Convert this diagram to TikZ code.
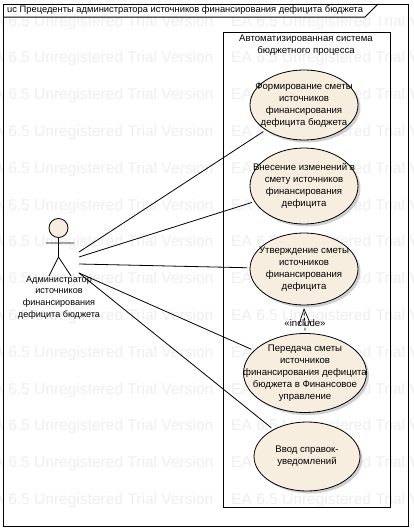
\documentclass[tikz,border=0pt]{standalone}
\usepackage{fontspec}
\setmainfont{Liberation Sans}
\usetikzlibrary{shapes.geometric,arrows.meta,shadows}
\definecolor{ucfill}{HTML}{F7EEE0}
\definecolor{wm}{HTML}{EFEFEF}
\tikzset{
  every node/.style={font=\fontsize{9.6}{12}\selectfont,inner sep=0pt,align=center},
  usecase/.style={ellipse,draw=black,fill=ucfill,line width=0.8pt,outer sep=3pt,
     drop shadow={shadow xshift=2.5pt,shadow yshift=-2.5pt,fill=black!30,opacity=0.6}},
  assoc/.style={draw=black,line width=0.8pt},
  mark wm/.style={font=\fontsize{15.55}{20}\selectfont,text=wm,anchor=west},
  frameline/.style={draw=black,line width=1pt},
}
\begin{document}
\begin{tikzpicture}[x=1pt,y=-1pt]
\useasboundingbox (0,0) rectangle (413,530);
\fill[white] (0,0) rectangle (413,530);
\begin{scope}
\clip (0,17) rectangle (413,530);
\foreach \r in {0,...,13}{
  \foreach \c in {0,1}{
    \node[mark wm] (wm\r\c) at ({-17+\c*248},{22+\r*36.8}) {EA 6.5 Unregistered Trial Version};
  }
}
\end{scope}
% frame
\draw[frameline] (3.5,4) rectangle (408.5,526);
\draw[frameline] (3.5,17) -- (365,17) -- (378,4);
\node[anchor=west,font=\fontsize{9.35}{12}\selectfont] (title) at (7,10) {uc Прецеденты администратора источников финансирования дефицита бюджета};
% system
\draw[frameline] (223,32) rectangle (390,507);
\node (sys) at (306,45) {Автоматизированная система\\бюджетного процесса};
% use cases
\node[usecase,minimum width=108pt,minimum height=70pt] (e1) at (304,105) {};
\node[usecase,minimum width=108pt,minimum height=76pt] (e2) at (304,186) {};
\node[usecase,minimum width=108pt,minimum height=72pt] (e3) at (304,269) {};
\node[usecase,minimum width=123pt,minimum height=79pt] (e4) at (305,373) {};
\node[usecase,minimum width=106pt,minimum height=69pt] (e5) at (307,456.5) {};
\node (t1) at (e1.center) {Формирование сметы\\источников\\финансирования\\дефицита бюджета};
\node (t2) at (e2.center) {Внесение изменений в\\смету источников\\финансирования\\дефицита};
\node (t3) at (e3.center) {Утверждение сметы\\источников\\финансирования\\дефицита};
\node (t4) at (e4.center) {Передача сметы\\источников\\финансирования дефицита\\бюджета в Финансовое\\управление};
\node (t5) at (e5.center) {Ввод справок-\\уведомлений};
% include
\draw[line width=0.7pt,dash pattern=on 3pt off 2pt,-{Straight Barb[length=16pt,width=12pt]}] (e4.north) -- (e3.south);
\node (inc) at (305,323) {«include»};
% actor
\filldraw[fill=ucfill,draw=black,line width=0.8pt] (58.5,228) circle (9.5);
\draw[line width=0.8pt] (58.5,237.5) -- (58.5,257) (46,243) -- (74,243) (49,276) -- (58.5,257) -- (71,276);
\node[font=\fontsize{9.1}{11.7}\selectfont] (actor) at (59,297.5) {Администратор\\источников\\финансирования\\дефицита бюджета};
\coordinate (a1) at (79,252);
\coordinate (a2) at (79,257);
\coordinate (a3) at (79,264);
\coordinate (a4) at (79,273);
\coordinate (a5) at (79,273);
\draw[assoc] (a1) -- (e1);
\draw[assoc] (a2) -- (e2);
\draw[assoc] (a3) -- (e3);
\draw[assoc] (a4) -- (e4);
\draw[assoc] (a5) -- (e5);
\end{tikzpicture}
\end{document}
